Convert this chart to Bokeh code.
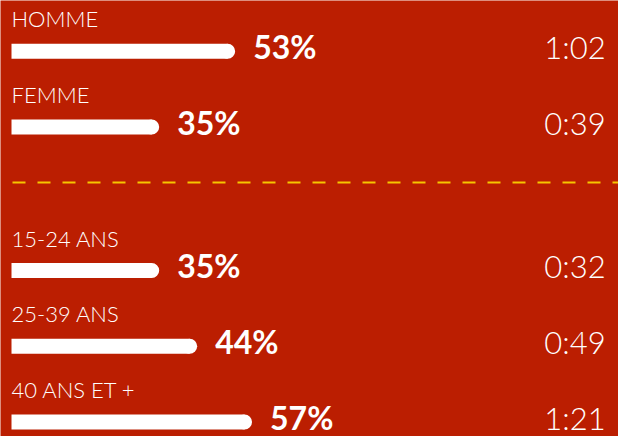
from bokeh.plotting import figure
from bokeh.models import Range1d, Span, ColumnDataSource
from bokeh.core.properties import value
from bokeh.embed import file_html
from bokeh.resources import INLINE

# ---- data ----
categories = ["HOMME", "FEMME", "15-24 ANS", "25-39 ANS", "40 ANS ET +"]
shares = [53, 35, 35, 44, 57]
share_labels = ["53%", "35%", "35%", "44%", "57%"]
durations = ["1:02", "0:39", "0:32", "0:49", "1:21"]

# ---- layout (pixels) ----
W, H = 618, 436
LEFT_PX = 11
PPU = 4.22          # pixels per percent
BAR_H = 15
row_y = [50.8, 126.5, 270.0, 345.8, 421.5]
SEP_Y = 182
TIME_PX = 574.5

BG = "#BB1E01"
WHITE = "#FFFFFF"
YELLOW = "#F6C600"

x0 = -LEFT_PX / PPU
x1 = (W - LEFT_PX) / PPU
r_units = (BAR_H / 2) / PPU
time_x = (TIME_PX - LEFT_PX) / PPU

src = ColumnDataSource(dict(
    y=row_y,
    share=shares,
    bar_end=[s - r_units for s in shares],
    zero=[0] * len(shares),
    cat=categories,
    pct=share_labels,
    dur=durations,
    tx=[time_x] * len(shares),
))

p = figure(width=W, height=H, output_backend="svg", toolbar_location=None,
           x_range=Range1d(x0, x1), y_range=Range1d(H, 0),
           min_border=0, min_border_left=0, min_border_right=0,
           min_border_top=0, min_border_bottom=0)
p.axis.visible = False
p.grid.visible = False
p.outline_line_color = None
p.background_fill_color = BG
p.border_fill_color = BG

# bars with rounded right end
p.hbar(y="y", left="zero", right="bar_end", height=BAR_H, source=src,
       fill_color=WHITE, line_color=None)
p.scatter(x="bar_end", y="y", size=BAR_H, marker="circle", source=src,
          fill_color=WHITE, line_color=None)

# category labels
p.text(x="zero", y="y", text="cat", source=src, y_offset=-32.4,
       text_font=value("Lato Light"), text_font_size="22px", text_color=WHITE,
       text_align="left", text_baseline="alphabetic")

# percentage labels
p.text(x="share", y="y", text="pct", source=src, x_offset=18, y_offset=-4.9,
       text_font=value("Lato"), text_font_style="bold", text_font_size="32px",
       text_color=WHITE, text_align="left", text_baseline="alphabetic")

# durations
p.text(x="tx", y="y", text="dur", source=src, y_offset=-4.5,
       text_font=value("Lato Light"), text_font_size="31px", text_color=WHITE,
       text_align="center", text_baseline="alphabetic")

# dashed separator
sep = Span(location=SEP_Y, dimension="width", line_color=YELLOW, line_width=2,
           line_dash="13 12", line_dash_offset=13)
p.add_layout(sep)

html = file_html(p, INLINE)
html = html.replace("<body>", '<body style="margin:0;background:%s">' % BG, 1)
open("out.html", "w").write(html)
